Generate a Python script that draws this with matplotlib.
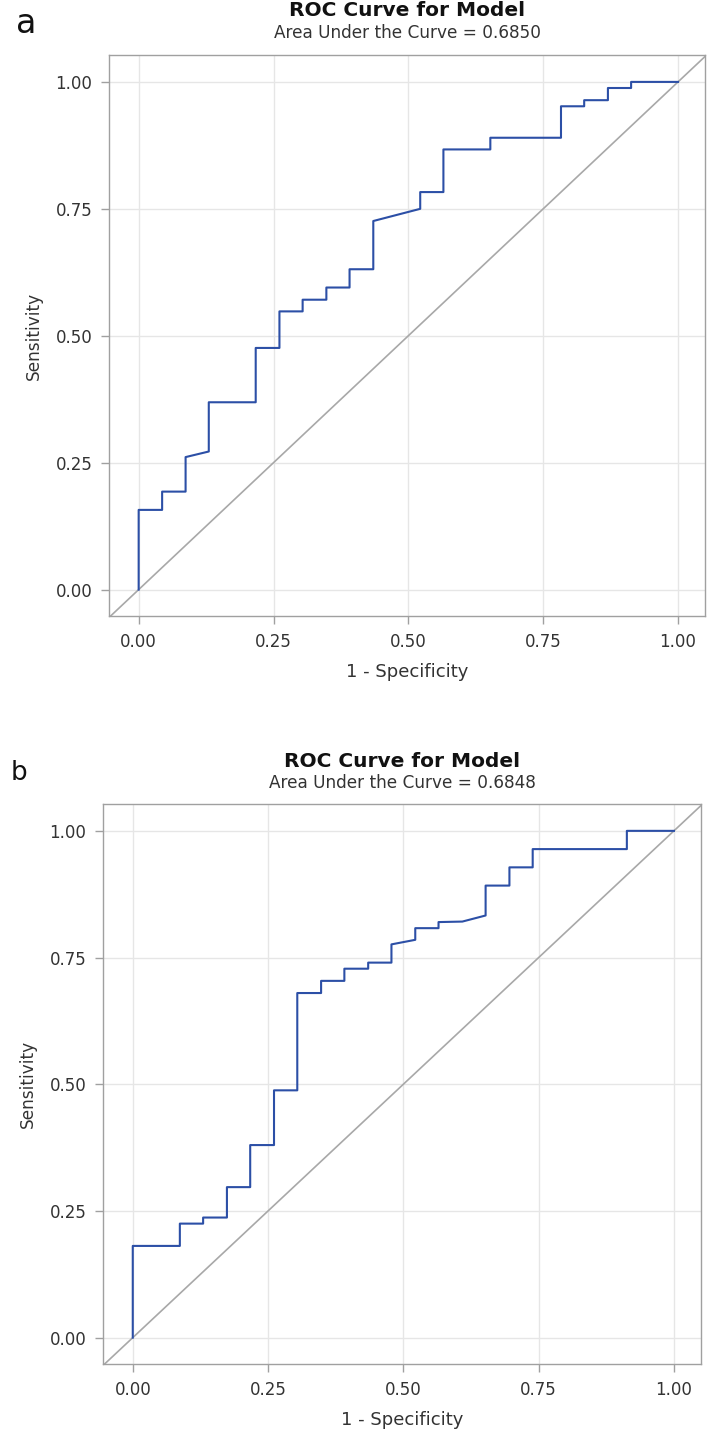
import matplotlib
matplotlib.use("Agg")
import matplotlib.pyplot as plt

plt.rcParams["font.family"] = ["DejaVu Sans"]

# ROC vertices (1 - specificity, sensitivity)
fpr_a = [0, 0, 0.0435, 0.0435, 0.087, 0.087, 0.130, 0.130, 0.217, 0.217,
         0.261, 0.261, 0.304, 0.304, 0.348, 0.348, 0.391, 0.391, 0.435, 0.435,
         0.522, 0.522, 0.565, 0.565, 0.652, 0.652, 0.783, 0.783, 0.826, 0.826,
         0.870, 0.870, 0.913, 0.913, 1.0]
tpr_a = [0, 0.157, 0.157, 0.193, 0.193, 0.261, 0.272, 0.369, 0.369, 0.476,
         0.476, 0.548, 0.548, 0.571, 0.571, 0.595, 0.595, 0.631, 0.631, 0.726,
         0.750, 0.783, 0.783, 0.867, 0.867, 0.890, 0.890, 0.952, 0.952, 0.964,
         0.964, 0.988, 0.988, 1.0, 1.0]

fpr_b = [0, 0, 0.087, 0.087, 0.130, 0.130, 0.174, 0.174, 0.217, 0.217,
         0.261, 0.261, 0.304, 0.304, 0.348, 0.348, 0.391, 0.391, 0.435, 0.435,
         0.478, 0.478, 0.522, 0.522, 0.565, 0.565, 0.609, 0.652, 0.652, 0.696,
         0.696, 0.739, 0.739, 0.913, 0.913, 1.0]
tpr_b = [0, 0.181, 0.181, 0.225, 0.225, 0.237, 0.237, 0.297, 0.297, 0.380,
         0.380, 0.488, 0.488, 0.680, 0.680, 0.704, 0.704, 0.728, 0.728, 0.740,
         0.740, 0.776, 0.785, 0.808, 0.808, 0.820, 0.821, 0.833, 0.892, 0.892,
         0.928, 0.928, 0.964, 0.964, 1.0, 1.0]

panels = ["a", "b"]
auc = ["0.6850", "0.6848"]
ticks = [0, 0.25, 0.5, 0.75, 1.0]
tick_labels = ["0.00", "0.25", "0.50", "0.75", "1.00"]

fig = plt.figure(figsize=(7.09, 14.36), dpi=100)
W, H = 709, 1436

# axes boxes in pixels: left, top, right, bottom
boxes = [(109, 55, 705, 616), (103, 804, 701, 1364)]
title_base = [16, 767]
sub_base = [38, 788]
letter_pos = [(16, 33, 24), (11, 780, 19)]

curves = [(fpr_a, tpr_a), (fpr_b, tpr_b)]
frame = "#a0a0a0"
txt = "#333333"

for i in range(2):
    l, t, r, b = boxes[i]
    ax = fig.add_axes([l / W, 1 - b / H, (r - l) / W, (b - t) / H])
    x, y = curves[i]
    ax.axline((0, 0), (1, 1), color="#a8a8a8", lw=1.2, zorder=2)
    ax.plot(x, y, color="#2c4fa6", lw=1.5, zorder=3)
    ax.set_xlim(-0.055, 1.05)
    ax.set_ylim(-0.052, 1.053)
    ax.set_xticks(ticks)
    ax.set_yticks(ticks)
    ax.set_xticklabels(tick_labels)
    ax.set_yticklabels(tick_labels)
    ax.grid(True, color="#e6e6e6", lw=1.0, zorder=0)
    ax.set_axisbelow(True)
    for s in ax.spines.values():
        s.set_color(frame)
        s.set_linewidth(1.0)
    ax.tick_params(direction="out", length=6, width=1, color=frame,
                   labelsize=12, labelcolor=txt, pad=6)
    ax.set_xlabel("1 - Specificity", fontsize=13, color=txt, labelpad=9)
    ax.set_ylabel("Sensitivity", fontsize=12.2, color=txt, labelpad=9)

    cx = (l + r) / 2 / W
    fig.text(cx, 1 - title_base[i] / H, "ROC Curve for Model", ha="center",
             va="baseline", fontsize=14.5, fontweight="bold", color="#111111")
    fig.text(cx, 1 - sub_base[i] / H, "Area Under the Curve = " + auc[i],
             ha="center", va="baseline", fontsize=12.2, color=txt)
    lx, ly, fs = letter_pos[i]
    fig.text(lx / W, 1 - ly / H, panels[i], ha="left", va="baseline",
             fontsize=fs, color="#111111")

fig.savefig("out.png", dpi=100)
